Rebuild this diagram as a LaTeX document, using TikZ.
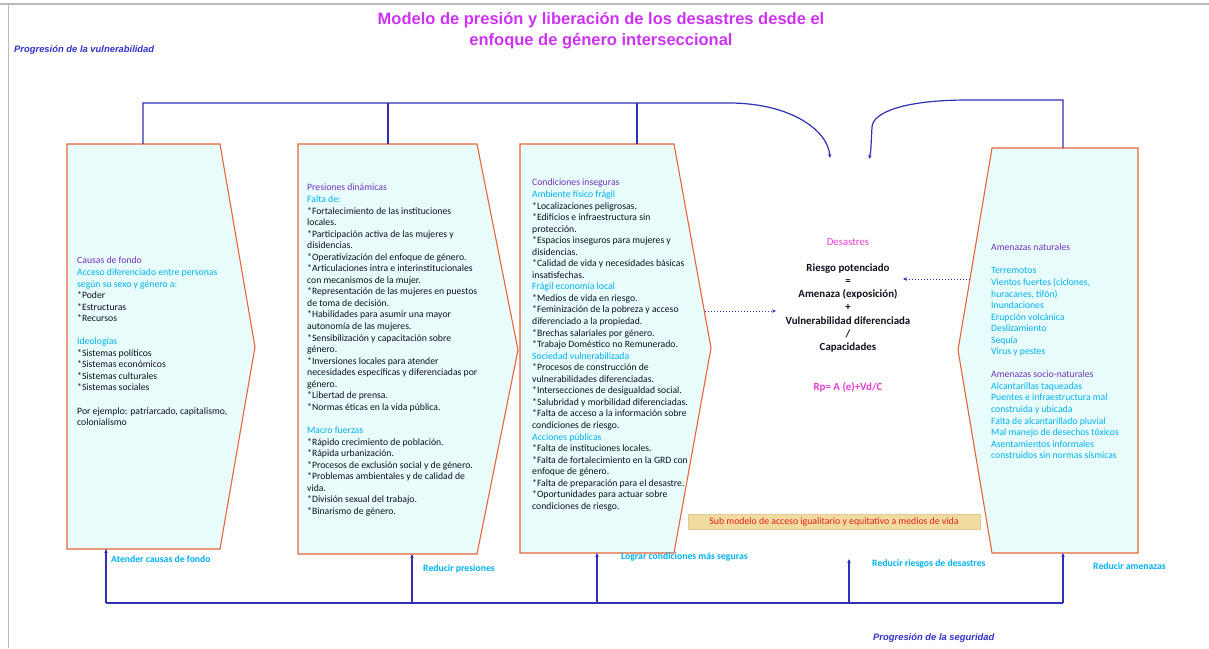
\documentclass[tikz,border=0pt]{standalone}
\usepackage{fontspec}
\setmainfont{Carlito}
\newfontfamily\arialf{Liberation Sans}
\usetikzlibrary{arrows.meta}
\definecolor{boxedge}{RGB}{232,100,58}
\definecolor{boxfill}{RGB}{232,252,252}
\definecolor{connblue}{RGB}{48,48,180}
\definecolor{headp}{RGB}{112,48,190}
\definecolor{lblue}{RGB}{0,176,240}
\definecolor{titlec}{RGB}{204,51,240}
\definecolor{pinkc}{RGB}{232,60,210}
\definecolor{bodyc}{RGB}{15,15,30}
\definecolor{progc}{RGB}{50,50,200}
\definecolor{tanfill}{RGB}{240,220,160}
\definecolor{redt}{RGB}{230,30,30}
\definecolor{framec}{RGB}{185,185,185}
\newcommand{\hp}[1]{\textcolor{headp}{#1}}
\newcommand{\hb}[1]{\textcolor{lblue}{#1}}
\begin{document}
\begin{tikzpicture}[x=1pt,y=-1pt,
  box/.style={draw=boxedge, fill=boxfill, line width=1.1pt, line join=miter},
  conn/.style={draw=connblue, line width=1.2pt},
  tip/.style={-{Stealth[length=4pt,width=3.5pt]}},
  dotarrow/.style={draw=connblue, line width=1pt, dotted, -{Stealth[length=4pt,width=3.5pt]}},
  body/.style={anchor=north west, inner sep=0pt, align=left, text=bodyc, font=\fontsize{9.7}{11.55}\selectfont},
  lbl/.style={anchor=west, inner sep=0pt, text=lblue, font=\fontsize{9.7}{11}\selectfont\bfseries},
  prog/.style={anchor=west, inner sep=0pt, text=progc, font=\arialf\fontsize{9.4}{11}\selectfont\bfseries\itshape},
]
\useasboundingbox (0,0) rectangle (1209,648);
% frame of the page
\draw[framec, line width=1.5pt] (0,4) -- (1209,4);
\draw[framec, line width=1pt] (8,4) -- (8,648);

% title
\node[inner sep=0pt, align=center, text=titlec, font=\arialf\fontsize{16.5}{21}\selectfont\bfseries] (title) at (601,31)
  {Modelo de presión y liberación de los desastres desde el\\ enfoque de género interseccional};
\node[prog] (progv) at (14,50) {Progresión de la vulnerabilidad};
\node[prog] (progs) at (873,638) {Progresión de la seguridad};

% boxes
\draw[box] (67,144) -- (220,144) -- (255,347) -- (220,549) -- (67,549) -- cycle;
\draw[box] (298,144) -- (477,144) -- (518,350) -- (477,554) -- (298,554) -- cycle;
\draw[box] (520,144) -- (674,144) -- (711,348) -- (674,553) -- (520,553) -- cycle;
\draw[box] (992,148) -- (1138,148) -- (1138,553) -- (992,553) -- (958,350) -- cycle;

% box texts
\node[body] (causas) at (77,257) {\hp{Causas de fondo}\\
\hb{Acceso diferenciado entre personas}\\
\hb{según su sexo y género a:}\\
*Poder\\
*Estructuras\\
*Recursos\\[11.55pt]
\hb{Ideologías}\\
*Sistemas políticos\\
*Sistemas económicos\\
*Sistemas culturales\\
*Sistemas sociales\\[11.55pt]
Por ejemplo: patriarcado, capitalismo,\\
colonialismo};

\node[body] (presiones) at (307,184) {\hp{Presiones dinámicas}\\
\hb{Falta de:}\\
*Fortalecimiento de las instituciones\\
locales.\\
*Participación activa de las mujeres y\\
disidencias.\\
*Operativización del enfoque de género.\\
*Articulaciones intra e interinstitucionales\\
con mecanismos de la mujer.\\
*Representación de las mujeres en puestos\\
de toma de decisión.\\
*Habilidades para asumir una mayor\\
autonomía de las mujeres.\\
*Sensibilización y capacitación sobre\\
género.\\
*Inversiones locales para atender\\
necesidades específicas y diferenciadas por\\
género.\\
*Libertad de prensa.\\
*Normas éticas en la vida pública.\\[11.55pt]
\hb{Macro fuerzas}\\
*Rápido crecimiento de población.\\
*Rápida urbanización.\\
*Procesos de exclusión social y de género.\\
*Problemas ambientales y de calidad de\\
vida.\\
*División sexual del trabajo.\\
*Binarismo de género.};

\node[body] (condiciones) at (532,179) {\hp{Condiciones inseguras}\\
\hb{Ambiente físico frágil}\\
*Localizaciones peligrosas.\\
*Edificios e infraestructura sin\\
protección.\\
*Espacios inseguros para mujeres y\\
disidencias.\\
*Calidad de vida y necesidades básicas\\
insatisfechas.\\
\hb{Frágil economía local}\\
*Medios de vida en riesgo.\\
*Feminización de la pobreza y acceso\\
diferenciado a la propiedad.\\
*Brechas salariales por género.\\
*Trabajo Doméstico no Remunerado.\\
\hb{Sociedad vulnerabilizada}\\
*Procesos de construcción de\\
vulnerabilidades diferenciadas.\\
*Intersecciones de desigualdad social.\\
*Salubridad y morbilidad diferenciadas.\\
*Falta de acceso a la información sobre\\
condiciones de riesgo.\\
\hb{Acciones públicas}\\
*Falta de instituciones locales.\\
*Falta de fortalecimiento en la GRD con\\
enfoque de género.\\
*Falta de preparación para el desastre.\\
*Oportunidades para actuar sobre\\
condiciones de riesgo.};

\node[body, text=lblue] (amenazas) at (991,244) {\hp{Amenazas naturales}\\[11.5pt]
Terremotos\\
Vientos fuertes (ciclones,\\
huracanes, tifón)\\
Inundaciones\\
Erupción volcánica\\
Deslizamiento\\
Sequía\\
Virus y pestes\\[11.5pt]
\hp{Amenazas socio-naturales}\\
Alcantarillas taqueadas\\
Puentes e infraestructura mal\\
construida y ubicada\\
Falta de alcantarillado pluvial\\
Mal manejo de desechos tóxicos\\
Asentamientos informales\\
construidos sin normas sísmicas};

% centre
\node[inner sep=0pt, text=pinkc, font=\fontsize{10.8}{12}\selectfont] (desastres) at (848,242) {Desastres};
\node[anchor=north, inner sep=0pt, align=center, text=bodyc, font=\fontsize{10.9}{13.2}\selectfont\bfseries] (formula) at (848,263.5)
  {Riesgo potenciado\\ =\\ Amenaza (exposición)\\ +\\ Vulnerabilidad diferenciada\\ /\\ Capacidades};
\node[inner sep=0pt, text=pinkc, font=\fontsize{10.9}{12}\selectfont\bfseries] (rp) at (848,387) {Rp= A (e)+Vd/C};

% sub model box
\node[draw=tanfill!80!brown, fill=tanfill, line width=0.4pt, minimum width=292pt, minimum height=15pt, inner sep=0pt,
  text=redt, font=\fontsize{9.8}{11}\selectfont] (submodelo) at (834,521.5)
  {Sub modelo de acceso igualitario y equitativo a medios de vida};

% dotted arrows
\coordinate (d3) at (705,311);
\coordinate (d3e) at (776,311);
\coordinate (d4) at (970,279);
\coordinate (d4e) at (903,279);
\draw[dotarrow] (d3) -- (d3e);
\draw[dotarrow] (d4) -- (d4e);

% top connectors
\coordinate (b1top) at (143,144);
\coordinate (b2top) at (388,144);
\coordinate (b3top) at (637,144);
\coordinate (b4top) at (1063,148);
\coordinate (topbend) at (729,103);
\coordinate (arrL) at (830,158);
\coordinate (rbend) at (968,100);
\coordinate (arrR) at (869,159);
\draw[conn, tip] (b1top) |- (topbend) .. controls (790,103) and (828,130) .. (arrL);
\draw[conn] (b2top) -- (b2top |- topbend);
\draw[conn] (b3top) -- (b3top |- topbend);
\draw[conn, tip] (b4top) |- (rbend) .. controls (905,100) and (873,112) .. (872,127) .. controls (871,145) and (871,152) .. (arrR);

% bottom connectors
\coordinate (busL) at (106,603);
\coordinate (busR) at (1063,603);
\coordinate (b1bot) at (106,549);
\coordinate (b2bot) at (412,554);
\coordinate (b3bot) at (597,553);
\coordinate (freeup) at (849,559);
\coordinate (b4bot) at (1063,553);
\draw[conn] (busL) -- (busR);
\draw[conn, tip] (busL) -- (b1bot);
\draw[conn, tip] (b2bot |- busL) -- (b2bot);
\draw[conn, tip] (b3bot |- busL) -- (b3bot);
\draw[conn, tip] (freeup |- busL) -- (freeup);
\draw[conn, tip] (busR) -- (b4bot);

% bottom labels
\node[lbl] (l1) at (111,559) {Atender causas de fondo};
\node[lbl] (l2) at (423,569) {Reducir presiones};
\node[lbl] (l3) at (621,557) {Lograr condiciones más seguras};
\node[lbl] (l4) at (872,564) {Reducir riesgos de desastres};
\node[lbl] (l5) at (1093,566) {Reducir amenazas};
\end{tikzpicture}
\end{document}
